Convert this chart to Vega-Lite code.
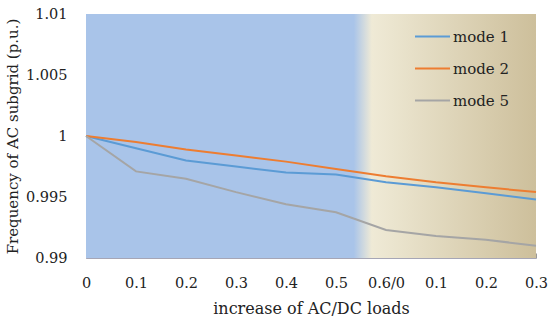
{
  "$schema": "https://vega.github.io/schema/vega-lite/v6.json",
  "width": 450,
  "height": 244,
  "autosize": {"type": "none"},
  "padding": {"left": 86, "top": 14, "right": 14, "bottom": 64},
  "background": "white",
  "config": {
    "view": {"stroke": null},
    "font": "DejaVu Serif",
    "axis": {"grid": false, "labelFont": "DejaVu Serif", "titleFont": "DejaVu Serif", "labelColor": "#222", "titleColor": "#222", "titleFontWeight": "normal"}
  },
  "datasets": {
    "series": [
      {"i": 0, "mode": "mode 1", "f": 1.0},
      {"i": 1, "mode": "mode 1", "f": 0.9990},
      {"i": 2, "mode": "mode 1", "f": 0.9980},
      {"i": 3, "mode": "mode 1", "f": 0.9975},
      {"i": 4, "mode": "mode 1", "f": 0.9970},
      {"i": 5, "mode": "mode 1", "f": 0.99685},
      {"i": 6, "mode": "mode 1", "f": 0.9962},
      {"i": 7, "mode": "mode 1", "f": 0.9958},
      {"i": 8, "mode": "mode 1", "f": 0.9953},
      {"i": 9, "mode": "mode 1", "f": 0.9948},
      {"i": 0, "mode": "mode 2", "f": 1.0},
      {"i": 1, "mode": "mode 2", "f": 0.9995},
      {"i": 2, "mode": "mode 2", "f": 0.9989},
      {"i": 3, "mode": "mode 2", "f": 0.9984},
      {"i": 4, "mode": "mode 2", "f": 0.9979},
      {"i": 5, "mode": "mode 2", "f": 0.9973},
      {"i": 6, "mode": "mode 2", "f": 0.9967},
      {"i": 7, "mode": "mode 2", "f": 0.9962},
      {"i": 8, "mode": "mode 2", "f": 0.9958},
      {"i": 9, "mode": "mode 2", "f": 0.9954},
      {"i": 0, "mode": "mode 5", "f": 1.0},
      {"i": 1, "mode": "mode 5", "f": 0.9971},
      {"i": 2, "mode": "mode 5", "f": 0.9965},
      {"i": 3, "mode": "mode 5", "f": 0.9954},
      {"i": 4, "mode": "mode 5", "f": 0.9944},
      {"i": 5, "mode": "mode 5", "f": 0.99375},
      {"i": 6, "mode": "mode 5", "f": 0.9923},
      {"i": 7, "mode": "mode 5", "f": 0.9918},
      {"i": 8, "mode": "mode 5", "f": 0.9915},
      {"i": 9, "mode": "mode 5", "f": 0.9910}
    ]
  },
  "layer": [
    {
      "data": {"values": [{"x0": 0, "x1": 9, "y0": 0.99, "y1": 1.01}]},
      "mark": {
        "type": "rect",
        "fill": {
          "gradient": "linear",
          "x1": 0, "y1": 0, "x2": 1, "y2": 0,
          "stops": [
            {"offset": 0, "color": "#A9C4E9"},
            {"offset": 0.595, "color": "#A9C4E9"},
            {"offset": 0.635, "color": "#EFEAD6"},
            {"offset": 1, "color": "#CDBF9B"}
          ]
        }
      },
      "encoding": {
        "x": {"field": "x0", "type": "quantitative"},
        "x2": {"field": "x1"},
        "y": {"field": "y0", "type": "quantitative"},
        "y2": {"field": "y1"}
      }
    },
    {
      "data": {"name": "series"},
      "mark": {"type": "line", "strokeWidth": 2},
      "encoding": {
        "x": {
          "field": "i", "type": "quantitative",
          "scale": {"domain": [0, 9], "nice": false, "zero": false},
          "axis": {
            "values": [0, 1, 2, 3, 4, 5, 6, 7, 8, 9],
            "labelExpr": "['0','0.1','0.2','0.3','0.4','0.5','0.6/0','0.1','0.2','0.3'][datum.value]",
            "title": "increase of AC/DC loads",
            "labelFontSize": 14.5,
            "titleFontSize": 16,
            "tickSize": -5,
            "tickColor": "#999",
            "domainColor": "#A6A6B6",
            "labelPadding": 23,
            "titlePadding": 11,
            "labelFlush": false
          }
        },
        "y": {
          "field": "f", "type": "quantitative",
          "scale": {"domain": [0.99, 1.01], "nice": false, "zero": false},
          "axis": {
            "values": [0.99, 0.995, 1, 1.005, 1.01],
            "format": "~g",
            "title": "Frequency of AC subgrid (p.u.)",
            "labelFontSize": 14.5,
            "titleFontSize": 15,
            "ticks": false,
            "domainColor": "#A6A6B6",
            "labelPadding": 19,
            "titlePadding": 5
          }
        },
        "color": {
          "field": "mode", "type": "nominal",
          "scale": {"domain": ["mode 1", "mode 2", "mode 5"], "range": ["#5B9BD5", "#ED7D31", "#A5A5A5"]},
          "legend": {
            "title": null,
            "orient": "none",
            "legendX": 328,
            "legendY": 4,
            "symbolType": "stroke",
            "symbolSize": 1225,
            "symbolStrokeWidth": 2,
            "labelFontSize": 15,
            "labelFont": "DejaVu Serif",
            "labelColor": "#222",
            "rowPadding": 5,
            "labelOffset": 2
          }
        }
      }
    }
  ]
}
